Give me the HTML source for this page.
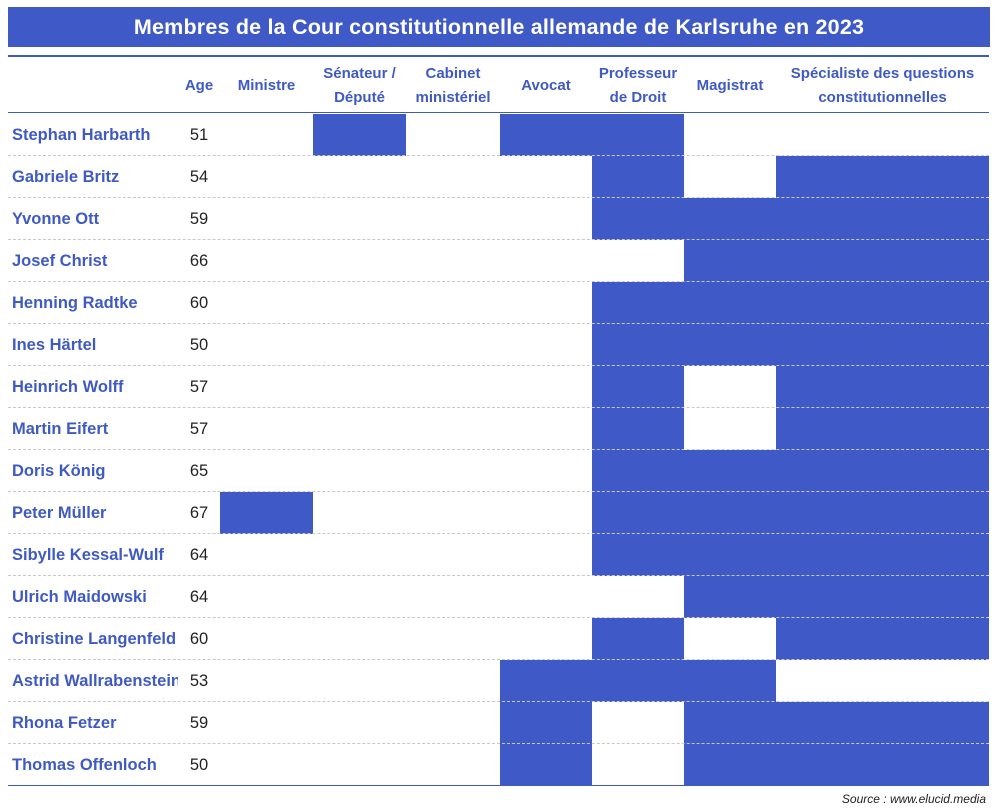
<!DOCTYPE html>
<html><head><meta charset="utf-8"><style>
body{margin:0;width:1000px;height:811px;background:#fff;font-family:"Liberation Sans",sans-serif;position:relative;overflow:hidden}
#title{position:absolute;left:8px;top:7px;width:982px;height:40px;background:#3F5AC6;color:#fff;font-weight:bold;font-size:21.5px;letter-spacing:0.2px;line-height:40px;text-align:center}
.h{position:absolute;color:#3F5AC0;font-weight:bold;font-size:15px;text-align:center;line-height:24px}
.line{position:absolute;left:8px;width:981px}
.nm{position:absolute;left:12px;width:166px;overflow:hidden;white-space:nowrap;color:#3F5AC0;font-weight:bold;font-size:16.5px;line-height:42px}
.age{position:absolute;left:178px;width:42px;text-align:center;font-size:16.5px;line-height:42px;color:#222}
.cell{position:absolute;background:#3F5AC6}
#src{position:absolute;right:14px;top:792px;font-style:italic;font-size:12px;color:#222}
</style></head><body>
<div id="title">Membres de la Cour constitutionnelle allemande de Karlsruhe en 2023</div>
<div class="line" style="top:55px;border-top:2px solid #3F5AC0"></div>
<div class="line" style="top:112px;border-top:1px solid #3F5AC0"></div>
<div id="tbl"></div>
<div id="src">Source : www.elucid.media</div>
<script>
const columns=["Ministre","Sénateur /<br>Député","Cabinet<br>ministériel","Avocat","Professeur<br>de Droit","Magistrat","Spécialiste des questions<br>constitutionnelles"];
const names=["Stephan Harbarth","Gabriele Britz","Yvonne Ott","Josef Christ","Henning Radtke","Ines Härtel","Heinrich Wolff","Martin Eifert","Doris König","Peter Müller","Sibylle Kessal-Wulf","Ulrich Maidowski","Christine Langenfeld","Astrid Wallrabenstein","Rhona Fetzer","Thomas Offenloch"];
const ages=[51,54,59,66,60,50,57,57,65,67,64,64,60,53,59,50];
const roles=[
[0,1,0,1,1,0,0],[0,0,0,0,1,0,1],[0,0,0,0,1,1,1],[0,0,0,0,0,1,1],
[0,0,0,0,1,1,1],[0,0,0,0,1,1,1],[0,0,0,0,1,0,1],[0,0,0,0,1,0,1],
[0,0,0,0,1,1,1],[1,0,0,0,1,1,1],[0,0,0,0,1,1,1],[0,0,0,0,0,1,1],
[0,0,0,0,1,0,1],[0,0,0,1,1,1,0],[0,0,0,1,0,1,1],[0,0,0,1,0,1,1]];
const colX=[220,313,406,500,592,684,776,989];
const top0=114,rh=42;
const T=document.getElementById('tbl');
function mk(cls,style,html){const d=document.createElement('div');d.className=cls;d.style.cssText=style;if(html!==undefined)d.innerHTML=html;T.appendChild(d);return d;}
let a=mk('h','left:178px;width:42px;top:74px','Age');


columns.forEach((c,i)=>{
  const multi=c.indexOf('<br>')>=0;
  const d=mk('h',`left:${colX[i]}px;width:${colX[i+1]-colX[i]}px;top:${multi?62:74}px`,c);
  
  
});
names.forEach((n,r)=>{
  const y=top0+r*rh;
  roles[r].forEach((v,c)=>{
    if(v){const d=mk('cell',`left:${colX[c]}px;width:${colX[c+1]-colX[c]}px;top:${y}px;height:${rh}px`);
    
    }
  });
  const s=mk('line',`top:${y+rh-1}px;border-top:1px dashed #c8c8c8`);
  if(r==names.length-1)s.style.borderTop='1px solid #3F5AC0';
  
  
  const nm=mk('nm',`top:${y}px`,n);
  
  
  const ag=mk('age',`top:${y}px`,ages[r]);
  
  
});
</script>
</body></html>
